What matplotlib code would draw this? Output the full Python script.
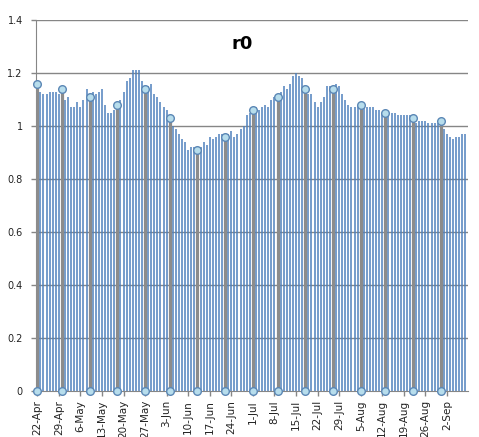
import matplotlib
matplotlib.use("Agg")
import matplotlib.pyplot as plt
import matplotlib.dates as mdates
import pandas as pd
import numpy as np

start_date = "2020-04-22"
r0_values = [
    1.16, 1.13, 1.12, 1.12, 1.13, 1.13, 1.13, 1.12, 1.14, 1.10,
    1.11, 1.07, 1.07, 1.09, 1.07, 1.10, 1.14, 1.11, 1.13, 1.12,
    1.13, 1.14, 1.08, 1.05, 1.05, 1.06, 1.08, 1.10, 1.13, 1.17,
    1.18, 1.21, 1.21, 1.21, 1.17, 1.14, 1.15, 1.16, 1.12, 1.11,
    1.09, 1.07, 1.06, 1.03, 1.00, 0.99, 0.97, 0.95, 0.94, 0.91,
    0.92, 0.92, 0.91, 0.92, 0.94, 0.93, 0.96, 0.95, 0.96, 0.97,
    0.97, 0.96, 0.97, 0.98, 0.96, 0.97, 0.99, 1.00, 1.04, 1.05,
    1.06, 1.07, 1.06, 1.07, 1.08, 1.07, 1.10, 1.11, 1.11, 1.13,
    1.15, 1.14, 1.16, 1.19, 1.20, 1.19, 1.18, 1.14, 1.12, 1.12,
    1.09, 1.07, 1.09, 1.11, 1.15, 1.15, 1.14, 1.16, 1.15, 1.12,
    1.10, 1.08, 1.07, 1.07, 1.08, 1.08, 1.08, 1.07, 1.07, 1.07,
    1.06, 1.06, 1.05, 1.05, 1.05, 1.05, 1.05, 1.04, 1.04, 1.04,
    1.04, 1.04, 1.03, 1.01, 1.02, 1.02, 1.02, 1.01, 1.01, 1.01,
    1.01, 1.02, 0.99, 0.97, 0.96, 0.95, 0.96, 0.96, 0.97, 0.97,
]
marker_day_offsets = [0, 8, 17, 26, 35, 43, 52, 61, 70, 78, 87, 96, 105, 113, 122, 131]
marker_values = [1.16, 1.14, 1.11, 1.08, 1.14, 1.03, 0.91, 0.96,
                 1.06, 1.11, 1.14, 1.14, 1.08, 1.05, 1.03, 1.02]
y_ticks = [0, 0.2, 0.4, 0.6, 0.8, 1, 1.2, 1.4]
y_tick_labels = ["0", "0.2", "0.4", "0.6", "0.8", "1", "1.2", "1.4"]
title = "r0"

dates = pd.date_range(start_date, periods=len(r0_values), freq="D")
marker_dates = pd.Timestamp(start_date) + pd.to_timedelta(marker_day_offsets, unit="D")

fig = plt.figure(figsize=(4.79, 4.37), dpi=100)
ax = fig.add_axes([36/479, 46/437, 432/479, 371/437])

grid_c = "#868686"
for yv in y_ticks[1:]:
    ax.axhline(yv, color=grid_c, lw=1.0, zorder=1)

ax.vlines(dates, 0, r0_values, color="#4F81BD", lw=1.1, zorder=2)
ax.vlines(marker_dates, 0, marker_values, color="#8C8C8C", lw=2.3, zorder=3)
mk = dict(marker="o", ms=5.5, mfc="#B7DDEC", mec="#5B87B5", mew=1.0, ls="none", zorder=4, clip_on=False)
ax.plot(marker_dates, marker_values, **mk)
ax.plot(marker_dates, [0]*len(marker_dates), **mk)

ax.set_ylim(0, 1.4)
ax.set_xlim(dates[0] - pd.Timedelta(hours=10), dates[-1] + pd.Timedelta(hours=20))
ax.set_yticks(y_ticks)
ax.set_yticklabels(y_tick_labels, fontsize=7)

week_ticks = dates[::7]
ax.set_xticks(week_ticks)
ax.set_xticklabels([f"{d.day}-{d.strftime('%b')}" for d in week_ticks], rotation=90, fontsize=7.5)

for s in ["top", "right"]:
    ax.spines[s].set_visible(False)
ax.spines["left"].set_color(grid_c)
ax.spines["bottom"].set_color(grid_c)
ax.tick_params(axis="both", colors=grid_c, labelcolor="#222222", length=3.5, width=1)
ax.tick_params(axis="y", pad=6)
ax.tick_params(axis="x", pad=3)

ax.text(0.477, 0.935, title, transform=ax.transAxes, ha="center", va="center",
        fontsize=13, fontweight="bold")

fig.savefig("out.png", dpi=100)
